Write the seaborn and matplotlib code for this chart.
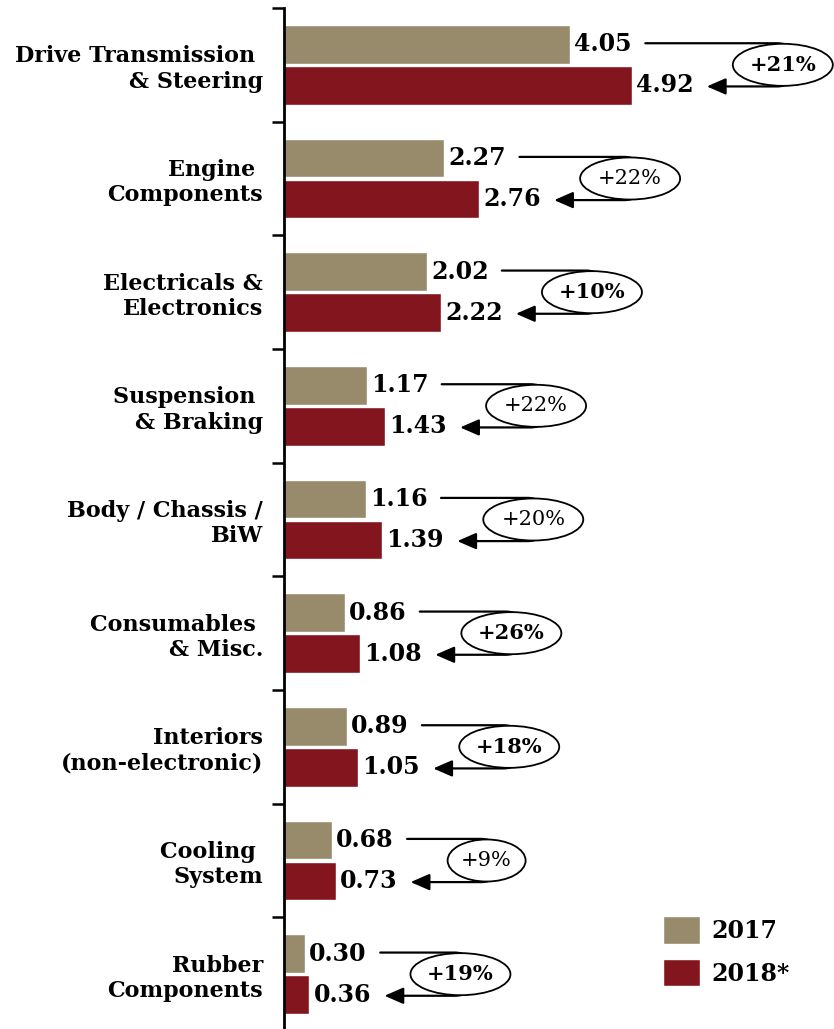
import matplotlib
matplotlib.use('Agg')
import matplotlib.pyplot as plt
from matplotlib.patches import Ellipse
import seaborn as sns
import pandas as pd

# values (USD bn)
categories = ['Drive Transmission \n& Steering', 'Engine \nComponents', 'Electricals &\nElectronics',
              'Suspension \n& Braking', 'Body / Chassis /\nBiW', 'Consumables \n& Misc.',
              'Interiors\n(non-electronic)', 'Cooling \nSystem', 'Rubber\nComponents']
v2017 = [4.05, 2.27, 2.02, 1.17, 1.16, 0.86, 0.89, 0.68, 0.30]
v2018 = [4.92, 2.76, 2.22, 1.43, 1.39, 1.08, 1.05, 0.73, 0.36]
growth = ['+21%', '+22%', '+10%', '+22%', '+20%', '+26%', '+18%', '+9%', '+19%']
growth_bold = [True, False, True, False, False, True, True, False, True]
years = ['2017', '2018*']
colors = ['#978b6c', '#83151f']

df = pd.DataFrame({
    'category': categories * 2,
    'value': v2017 + v2018,
    'year': [years[0]] * len(categories) + [years[1]] * len(categories),
})

sns.set_style('white')
plt.rcParams['font.family'] = ['DejaVu Serif']
plt.rcParams['text.color'] = 'black'
plt.rcParams['ytick.color'] = 'black'

W, H = 834, 1029
fig = plt.figure(figsize=(W / 100, H / 100), dpi=100)
ax_left, ax_top, ax_bot = 284, 8, 1031
ax = fig.add_axes([ax_left / W, 1 - ax_bot / H, (W - ax_left) / W, (ax_bot - ax_top) / H])

sns.barplot(data=df, y='category', x='value', hue='year', orient='h', palette=colors,
            width=0.72, gap=0.05, saturation=1, ax=ax)

XMAX = 7.78
ax.set_xlim(0, XMAX)
ax.set_ylim(len(categories) - 0.5, -0.5)
px = XMAX / (W - ax_left)  # data units per pixel

for c in ax.containers:
    ax.bar_label(c, fmt='%.2f', padding=3, fontsize=17, fontweight='bold', color='black')

for i, (a, b) in enumerate(zip(v2017, v2018)):
    start = a + 75 * px
    tip = b + 75 * px
    ex = b + 151 * px          # ellipse centre
    edge = ex + 12 * px        # right edge of the bracket, hidden under the ellipse
    armA = (edge - start) / px  # arm lengths are taken in pixels
    armB = (edge - tip) / px
    ax.annotate('', xy=(tip, i + 0.19), xytext=(start, i - 0.19),
                arrowprops=dict(arrowstyle='-|>,head_length=1.15,head_width=0.5',
                                connectionstyle=f'arc,angleA=0,angleB=0,armA={armA:.1f},armB={armB:.1f},rad=18',
                                color='black', lw=1.6, shrinkA=0, shrinkB=0), zorder=3)
    ew = (100 if len(growth[i]) > 3 else 78) * px
    ax.add_patch(Ellipse((ex, i), ew, 0.37, fc='white', ec='black', lw=1.3, zorder=4))
    ax.text(ex, i, growth[i], ha='center', va='center', fontsize=15, zorder=5,
            fontweight='bold' if growth_bold[i] else 'normal')

ax.set_xlabel('')
ax.set_ylabel('')
ax.set_xticks([])
ax.set_yticks(range(len(categories)))
ax.set_yticklabels(categories, fontsize=16, fontweight='bold', ha='right')
ax.tick_params(axis='y', which='major', length=0, pad=15)
ax.set_yticks([i - 0.5 for i in range(len(categories))], minor=True)
ax.tick_params(axis='y', which='minor', length=9, width=1.8, color='black', left=True)
for s in ['top', 'right', 'bottom']:
    ax.spines[s].set_visible(False)
ax.spines['left'].set_linewidth(2)
ax.spines['left'].set_color('black')

handles, labels = ax.get_legend_handles_labels()
ax.legend(handles, labels, loc='upper left', bbox_to_anchor=(642 / W, 1 - 895 / H),
          bbox_transform=fig.transFigure, frameon=False,
          prop={'size': 17, 'weight': 'bold'}, handlelength=1.55, handleheight=1.4,
          labelspacing=0.66, handletextpad=0.5)

fig.savefig('out.png', dpi=100)
